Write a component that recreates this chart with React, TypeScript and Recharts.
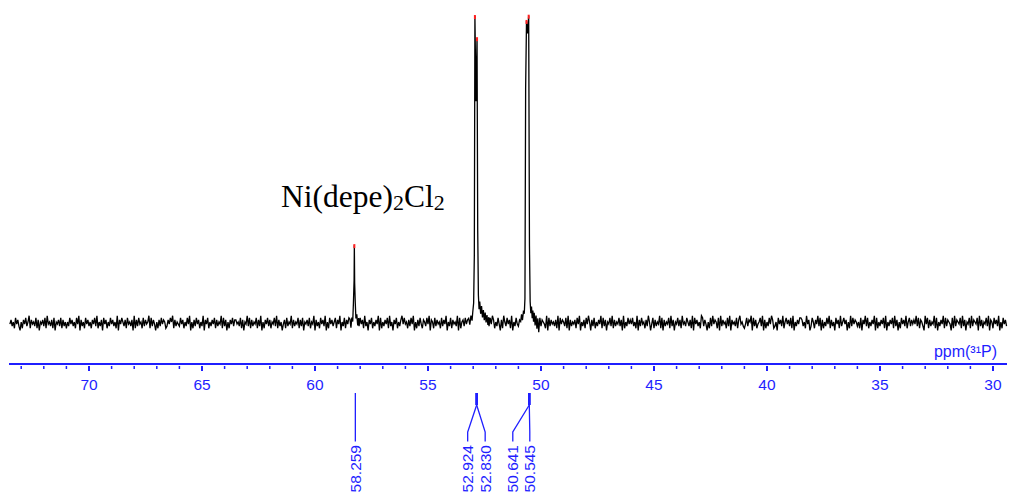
import React from "react";
import { ComposedChart, Line, Scatter, XAxis, YAxis } from "recharts";

// 31P NMR of Ni(depe)2Cl2 - picked peaks (ppm) and apex heights (0 = baseline)
const PEAK_PPM = [58.259, 52.924, 52.83, 50.641, 50.545];
const PEAK_HEIGHT = [25.3, 99.7, 92.5, 98.1, 99.8];
// multiplet each picked peak belongs to
const PEAK_GROUP = [0, 1, 1, 2, 2];

// line shape around each multiplet, apex excluded: [ppm, intensity]
const PROFILE_58: [number, number][] = [
  [58.45, 1.2], [58.41, -1.5], [58.37, 1.8], [58.33, 0.5], [58.3, 6.5], [58.27, 14],
  [58.245, 13], [58.22, 6.9], [58.19, 1.5], [58.15, 2.8], [58.11, -0.8], [58.07, 1.6],
];
const PROFILE_53: [number, number][] = [
  [53.2, 1.5], [53.15, -0.5], [53.1, 2.4], [53.05, 0.8], [53.02, 3.5], [52.98, 6.5],
  [52.95, 22], [52.877, 72], [52.8, 30], [52.77, 9], [52.74, 4.5], [52.71, 7],
  [52.67, 3], [52.63, 5.5], [52.59, 1.8], [52.55, 4.2], [52.51, 0.9], [52.47, 3.4],
  [52.43, 0.2], [52.39, 2.6], [52.35, -0.6], [52.31, 1.9],
];
const PROFILE_51: [number, number][] = [
  [50.9, 0.5], [50.86, 2.8], [50.82, 0.9], [50.78, 3.6], [50.74, 3], [50.71, 8],
  [50.68, 76], [50.593, 94], [50.51, 25], [50.48, 7], [50.45, 3.2], [50.42, 5.4],
  [50.39, 1.6], [50.36, 4.1], [50.33, 0.4], [50.3, 3.3], [50.26, -0.8], [50.22, 2.4],
  [50.18, -1.8], [50.14, 1.5], [50.1, -3],
];

// baseline noise, one digit per point from 73.5 ppm down; 4.5 sits on the baseline
const NOISE_START = 73.5;
const NOISE_STEP = 0.05;
const NOISE_UNIT = 0.68;
const NOISE =
  "46352746315264735826453726154637284536271546372635" +
  "25374635274816352746352647382536174625374635281647" +
  "53627453618263745273645827364152637465236475826354" +
  "37462537481526374625381647253647263548273615264736" +
  "64537261548372635472638152647362547382635146273548" +
  "26354726371546372548163527463815274635726481537264" +
  "73546281537462835164725364817253647283516472536847" +
  "45263748152637426537481652736452736481537264538172" +
  "56374628153746253847162537486253741628537462815374" +
  "36271546382736451827365428173645362817465372816354" +
  "62748153627485163725364827361547382635473618253746" +
  "47352816374526385147263548271635472836154736284537" +
  "53628174635287364152738465271836452738164537268453" +
  "24736581736245738162537486235174638257463728153647" +
  "76352846137526483716253748263517462835746152837465" +
  "35271648372536481725364728153647283615274638257364" +
  "64837265318472635482715364827365417283654728361547" +
  "28365471836254738165274638152746385263741528364752";

const X_TICKS = [
  73, 72, 71, 70, 69, 68, 67, 66, 65, 64, 63, 62, 61, 60, 59, 58, 57, 56, 55, 54, 53, 52,
  51, 50, 49, 48, 47, 46, 45, 44, 43, 42, 41, 40, 39, 38, 37, 36, 35, 34, 33, 32, 31, 30,
];
const X_LABELS = [70, 65, 60, 55, 50, 45, 40, 35, 30];
const X_DOMAIN = [29.38, 73.54];
const Y_DOMAIN = [-13.3, 104.9];

const TITLE = "Ni(depe)";

// annotation layout (px): junction shift per multiplet, label shift per peak
const JUNCTION_DX = [1, 0.7, 1.7];
const LABEL_DX = [0, -9, 8.5, -16.5, 0.5];

const BLUE = "#1f1fff";
const SANS = '"Liberation Sans", Arial, sans-serif';

const PROFILES = [PROFILE_58, PROFILE_53, PROFILE_51];
const inProfile = (ppm: number) =>
  PROFILES.some((p) => ppm <= p[0][0] && ppm >= p[p.length - 1][0]);

const spectrum: { ppm: number; v: number }[] = [];
NOISE.split("").forEach((c, i) => {
  const ppm = Math.round((NOISE_START - i * NOISE_STEP) * 1000) / 1000;
  if (ppm < X_DOMAIN[0] || inProfile(ppm)) return;
  spectrum.push({ ppm, v: (Number(c) - 4.5) * NOISE_UNIT });
});
PROFILES.forEach((p) => p.forEach(([ppm, v]) => spectrum.push({ ppm, v })));
PEAK_PPM.forEach((ppm, i) => spectrum.push({ ppm, v: PEAK_HEIGHT[i] }));
spectrum.sort((a, b) => b.ppm - a.ppm);

const tips = PEAK_PPM.map((ppm, i) => ({ ppm, v: PEAK_HEIGHT[i] }));

const peakLabels = PEAK_PPM.map((ppm, i) => {
  const g = PEAK_GROUP[i];
  const members = PEAK_PPM.filter((_, j) => PEAK_GROUP[j] === g);
  return {
    ppm: members.reduce((s, m) => s + m, 0) / members.length,
    v: Y_DOMAIN[0],
    label: ppm.toFixed(3),
    multi: members.length > 1,
    jdx: JUNCTION_DX[g],
    ldx: LABEL_DX[i],
  };
});

function AxisTick(props: any) {
  const { x, y, payload } = props;
  const major = X_LABELS.includes(payload.value);
  return (
    <g>
      <line x1={x} x2={x} y1={y} y2={y + (major ? 5 : 3)} stroke={BLUE} strokeWidth={major ? 2 : 1.5} />
      {major && (
        <text x={x} y={y + 24} textAnchor="middle" fill={BLUE} fontSize={15.5} fontFamily={SANS}>
          {payload.value}
        </text>
      )}
    </g>
  );
}

function AxisUnit(props: any) {
  const vb = props.viewBox || { x: 9, y: 364, width: 998, height: 135 };
  return (
    <text x={vb.x + vb.width - 10} y={vb.y - 7} textAnchor="end" fill={BLUE} fontSize={16} fontFamily={SANS}>
      ppm(³¹P)
    </text>
  );
}

function PeakTip(props: any) {
  const { cx, cy } = props;
  return <rect x={cx - 1} y={cy - 1} width={2} height={4} fill="#ff2020" />;
}

function PeakLabel(props: any) {
  const { cx, cy, payload } = props;
  const jx = cx + payload.jdx;
  const lx = jx + payload.ldx;
  const top = cy + 29;
  const knee = cy + 41;
  const foot = cy + 68;
  const bottom = cy + 77.5;
  return (
    <g>
      <line x1={jx} x2={jx} y1={top} y2={knee} stroke={BLUE} strokeWidth={payload.multi ? 2.5 : 1.3} />
      <path d={`M${jx},${knee} L${lx},${foot} L${lx},${bottom}`} stroke={BLUE} strokeWidth={1.3} fill="none" />
      <text
        transform={`translate(${lx},${bottom + 3.5}) rotate(-90)`}
        textAnchor="end"
        dominantBaseline="central"
        fill={BLUE}
        fontSize={15.5}
        fontFamily={SANS}
      >
        {payload.label}
      </text>
    </g>
  );
}

export default function App() {
  return (
    <div style={{ position: "absolute", left: 0, top: 0, width: 1009, height: 499, background: "#fff" }}>
      <ComposedChart width={1009} height={499} data={spectrum} margin={{ top: 0, right: 2, bottom: 0, left: 9 }}>
        <XAxis
          dataKey="ppm"
          type="number"
          domain={X_DOMAIN}
          reversed
          ticks={X_TICKS}
          interval={0}
          height={135}
          tickSize={0}
          tickLine={false}
          axisLine={{ stroke: BLUE, strokeWidth: 2 }}
          tick={(p: any) => <AxisTick {...p} />}
          label={{ content: (p: any) => <AxisUnit {...p} /> }}
        />
        <YAxis type="number" domain={Y_DOMAIN} hide />
        <Line
          dataKey="v"
          type="linear"
          stroke="#000"
          strokeWidth={1.3}
          dot={false}
          activeDot={false}
          isAnimationActive={false}
        />
        <Scatter data={tips} dataKey="v" shape={(p: any) => <PeakTip {...p} />} isAnimationActive={false} />
        <Scatter data={peakLabels} dataKey="v" shape={(p: any) => <PeakLabel {...p} />} isAnimationActive={false} />
      </ComposedChart>
      <div
        style={{
          position: "absolute",
          left: 281,
          top: 181,
          fontFamily: '"Liberation Serif", "Times New Roman", serif',
          fontSize: 31.5,
          lineHeight: "31px",
          color: "#000",
          whiteSpace: "nowrap",
        }}
      >
        {TITLE}
        <span style={{ fontSize: 22, verticalAlign: "-3px" }}>2</span>
        Cl
        <span style={{ fontSize: 22, verticalAlign: "-3px" }}>2</span>
      </div>
    </div>
  );
}
